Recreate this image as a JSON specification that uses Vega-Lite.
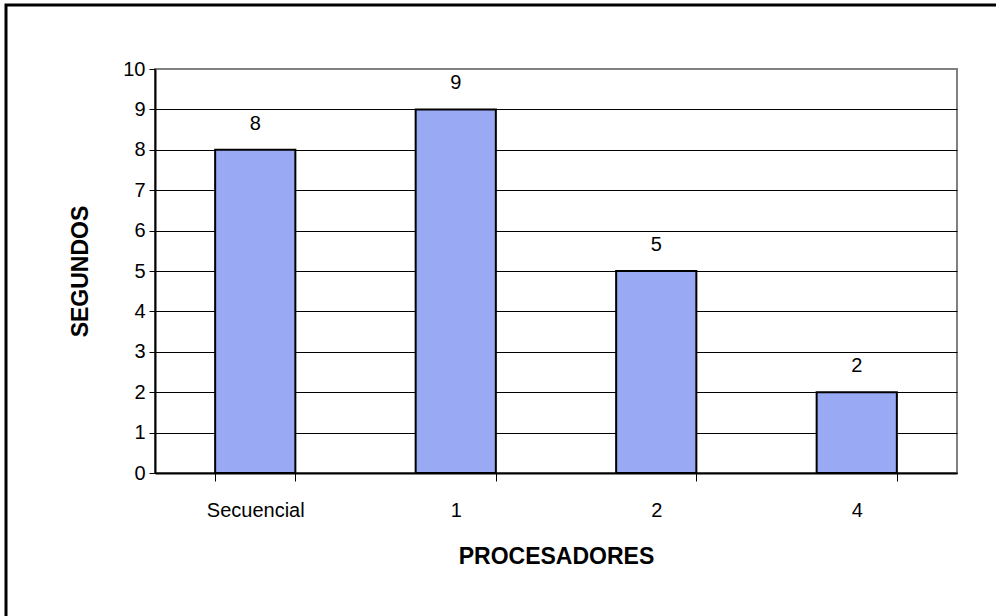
{
  "$schema": "https://vega.github.io/schema/vega-lite/v6.json",
  "autosize": {"type": "none"},
  "width": 802,
  "height": 404,
  "padding": {"left": 155, "top": 69, "right": 39, "bottom": 143},
  "background": "white",
  "config": {
    "font": "Liberation Sans",
    "view": {"stroke": "#808080", "strokeWidth": 2}
  },
  "data": {
    "values": [
      {"procesadores": "Secuencial", "segundos": 8},
      {"procesadores": "1", "segundos": 9},
      {"procesadores": "2", "segundos": 5},
      {"procesadores": "4", "segundos": 2}
    ]
  },
  "layer": [
    {
      "data": {"values": [{"marco": "borde"}]},
      "mark": {
        "type": "rect",
        "fill": "transparent",
        "stroke": "black",
        "strokeWidth": 3,
        "clip": false,
        "x": -149,
        "x2": 845,
        "y": -64,
        "y2": 551
      },
      "encoding": {}
    },
    {
      "mark": {"type": "bar", "fill": "#99a9f3", "stroke": "black", "strokeWidth": 2},
      "encoding": {
        "x": {
          "field": "procesadores",
          "type": "nominal",
          "sort": null,
          "scale": {"paddingInner": 0.6, "paddingOuter": 0.3},
          "axis": {
            "title": "PROCESADORES",
            "titleFont": "Liberation Sans",
            "titleFontSize": 23,
            "titleFontWeight": "bold",
            "titleColor": "black",
            "titlePadding": 25,
            "labelAngle": 0,
            "labelFontSize": 20,
            "labelColor": "black",
            "labelPadding": 19,
            "tickBand": "extent",
            "tickSize": 8,
            "tickColor": "black",
            "domainColor": "black",
            "domainWidth": 2
          }
        },
        "y": {
          "field": "segundos",
          "type": "quantitative",
          "scale": {"domain": [0, 10], "nice": false},
          "axis": {
            "title": "SEGUNDOS",
            "titleFont": "Liberation Sans",
            "titleFontSize": 23,
            "titleFontWeight": "bold",
            "titleColor": "black",
            "titlePadding": 30,
            "values": [0, 1, 2, 3, 4, 5, 6, 7, 8, 9, 10],
            "labelFontSize": 20,
            "labelColor": "black",
            "labelPadding": 4,
            "tickSize": 6,
            "tickColor": "black",
            "domainColor": "black",
            "domainWidth": 2,
            "grid": true,
            "gridColor": {
              "condition": {"test": "datum.value === 10", "value": "#808080"},
              "value": "black"
            },
            "gridOpacity": 1,
            "gridWidth": 1
          }
        }
      }
    },
    {
      "mark": {"type": "text", "dy": -16, "fontSize": 20, "color": "black", "baseline": "bottom"},
      "encoding": {
        "x": {"field": "procesadores", "type": "nominal", "sort": null},
        "y": {"field": "segundos", "type": "quantitative"},
        "text": {"field": "segundos", "type": "quantitative"}
      }
    }
  ]
}
